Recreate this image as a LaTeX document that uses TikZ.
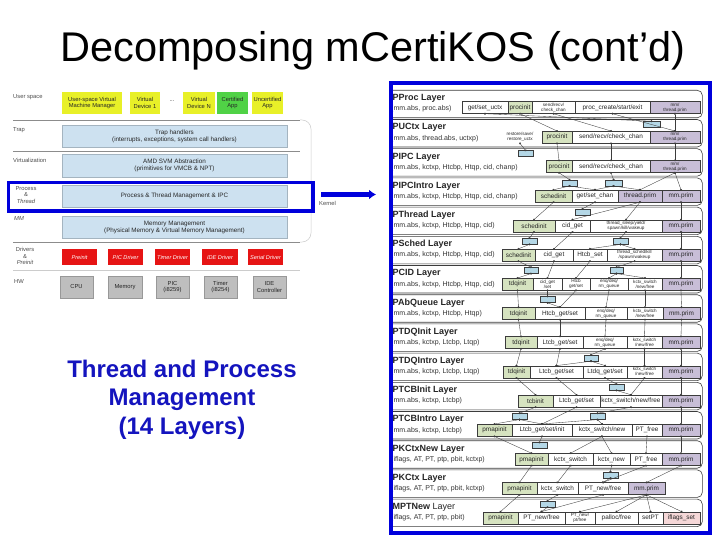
\documentclass[tikz,border=0pt]{standalone}
\usepackage{fontspec}
\setmainfont{Liberation Sans}
\usetikzlibrary{arrows.meta}
\definecolor{bord}{RGB}{0,0,220}
\definecolor{txtblue}{RGB}{20,20,190}
\definecolor{gbox}{RGB}{214,227,192}
\definecolor{pbox}{RGB}{200,190,215}
\definecolor{tagc}{RGB}{180,215,230}
\definecolor{lbox}{RGB}{205,225,240}
\definecolor{ybox}{RGB}{232,240,40}
\definecolor{cbox}{RGB}{80,210,70}
\definecolor{rbox}{RGB}{230,20,20}
\definecolor{hbox}{RGB}{190,190,190}
\definecolor{pinkbox}{RGB}{245,215,215}
\definecolor{lineg}{RGB}{60,60,60}
\tikzset{
 bx/.style={draw=lineg, line width=0.4pt, fill=white, inner sep=0pt, minimum height=12pt, font=\fontsize{6.4}{7}\selectfont, text=black!85},
 two/.style={align=center, font=\fontsize{4.6}{4.9}\selectfont},
 gr/.style={fill=gbox},
 pr/.style={fill=pbox},
 layerbox/.style={draw=lineg, line width=0.6pt, rounded corners=5pt, fill=white, inner sep=0pt},
 laytitle/.style={font=\bfseries\fontsize{9}{9}\selectfont, inner sep=0pt, text=black!85},
 laysub/.style={font=\fontsize{7}{7}\selectfont, inner sep=0pt, text=black!80},
 tagbox/.style={draw=lineg, line width=0.4pt, fill=tagc, minimum height=6pt, inner sep=0pt},
 cn/.style={draw=lineg, line width=0.35pt, {Circle[length=2pt]}-{Circle[length=2pt]}, shorten <=-1pt, shorten >=-1pt},
 lbl/.style={font=\fontsize{5.8}{6.4}\selectfont, text=black!70, inner sep=0pt},
 lbx/.style={draw=lbox!80!black, line width=0.3pt, fill=lbox, inner sep=0pt, font=\fontsize{6.3}{7}\selectfont, align=center, text=black!85},
 ubx/.style={fill=ybox, inner sep=0pt, font=\fontsize{5.8}{6.4}\selectfont, align=center, text=black!85},
 rbx/.style={fill=rbox, inner sep=0pt, font=\itshape\fontsize{5.6}{6}\selectfont, text=white},
 hbx/.style={fill=hbox, draw=hbox!80!black, line width=0.3pt, inner sep=0pt, font=\fontsize{5.8}{6.4}\selectfont, align=center, text=black!85},
 sepl/.style={draw=black!45, line width=0.5pt}
}
\newcommand\mybx[6]{\node[bx,#5,minimum width={(#3-#2)*1pt}] (#1) at ({(#2+#3)/2},#4) {#6};}
\newcommand\mylay[4]{%
 \node[layerbox, anchor=north west, minimum width=330pt, minimum height=27.5pt] (#1) at (372,#2) {};
 \node[laytitle, anchor=west] (#1t) at (392.5,{#2+8.5}) {#3};
 \node[laysub, anchor=west] (#1s) at (391,{#2+19}) {#4};}
\newcommand\mytag[4]{\node[tagbox, minimum width={(#3-#2)*1pt}, anchor=north] (#1) at ({(#2+#3)/2},{#4+2}) {};}
\newcommand\myconn[2]{\draw[cn] (#1.south) -- (#2.north);}
\newcommand\lbox[7]{\node[#7, minimum width={(#3-#2)*1pt}, minimum height={(#5-#4)*1pt}] (#1) at ({(#2+#3)/2},{(#4+#5)/2}) {#6};}
\begin{document}
\begin{tikzpicture}[x=1pt,y=-1pt]
\useasboundingbox (0,0) rectangle (720,540);
\fill[white] (0,0) rectangle (720,540);
% title
\node[font=\fontsize{41.5}{41.5}\selectfont, anchor=base, inner sep=0pt] (title) at (373,62) {Decomposing mCertiKOS (cont’d)};
% blue caption
\node[font=\bfseries\fontsize{24}{24}\selectfont, text=txtblue, anchor=base, inner sep=0pt] (cap1) at (182,377) {Thread and Process};
\node[font=\bfseries\fontsize{24}{24}\selectfont, text=txtblue, anchor=base, inner sep=0pt] (cap2) at (182,405.5) {Management};
\node[font=\bfseries\fontsize{24}{24}\selectfont, text=txtblue, anchor=base, inner sep=0pt] (cap3) at (182,434) {(14 Layers)};
% ---------- left architecture ----------
\node[lbl, anchor=west] (lu) at (13,97) {User space};
\node[lbl, anchor=west] (ltr) at (13,130) {Trap};
\node[lbl, anchor=west] (lvi) at (13,160) {Virtualization};
\node[lbl, align=center] (lpt) at (26,195) {Process\\\&\\\itshape Thread};
\node[lbl, anchor=west, font=\itshape\fontsize{5.8}{6.4}\selectfont] (lmm) at (14,219) {MM};
\node[lbl, align=center] (ldr) at (25,256) {Drivers\\\&\\\itshape Preinit};
\node[lbl, anchor=west] (lhw) at (14,282) {HW};
\draw[sepl] (13,120) -- (300,120);
\draw[sepl] (13,151) -- (300,151);
\draw[sepl] (13,242) -- (300,242);
\draw[sepl, draw=black!20] (13,270) -- (300,270);
\draw[draw=black!20, line width=0.5pt, rounded corners=9pt] (300,120) -- (311,120) -- (311,242) -- (300,242);
\lbox{u1}{62}{122}{92}{114}{User-space Virtual\\Machine Manager}{ubx}
\lbox{u2}{130}{160}{92}{114}{Virtual\\Device 1}{ubx}
\node[lbl, text=black!80] (udots) at (172,101) {...};
\lbox{u3}{183}{215}{92}{114}{Virtual\\Device N}{ubx}
\lbox{u4}{217}{248}{92}{114}{Certified\\App}{ubx, fill=cbox}
\lbox{u5}{252}{283}{92}{114}{Uncertified\\App}{ubx}
\lbox{ktrap}{62}{287}{125}{147}{Trap handlers\\(interrupts, exceptions, system call handlers)}{lbx}
\lbox{kamd}{62}{287}{154}{177}{AMD SVM Abstraction\\(primitives for VMCB \& NPT)}{lbx}
\lbox{kpt}{62}{287}{185}{207}{Process \& Thread Management \& IPC}{lbx}
\lbox{kmm}{62}{287}{216}{238}{Memory Management\\(Physical Memory \& Virtual Memory Management)}{lbx}
\lbox{r1}{62}{97}{249}{265}{Preinit}{rbx}
\lbox{r2}{108}{143}{249}{265}{PIC Driver}{rbx}
\lbox{r3}{155}{190}{249}{265}{Timer Driver}{rbx}
\lbox{r4}{202}{238}{249}{265}{IDE Driver}{rbx}
\lbox{r5}{248}{283}{249}{265}{Serial Driver}{rbx}
\lbox{h1}{60}{93}{276}{298}{CPU}{hbx}
\lbox{h2}{108}{142}{276}{298}{Memory}{hbx}
\lbox{h3}{156}{189}{276}{298}{PIC\\(i8259)}{hbx}
\lbox{h4}{204}{237}{276}{298}{Timer\\(i8254)}{hbx}
\lbox{h5}{253}{286}{276}{298}{IDE\\Controller}{hbx}
\node[draw=bord, line width=3.4pt, minimum width=304.6pt, minimum height=28.6pt, inner sep=0pt, anchor=north west] (hl) at (6.7,180.7) {};
\node[lbl, anchor=west] (kern) at (319,203.5) {Kernel};
\coordinate (as) at (321,194.5);
\coordinate (ae) at (376,194.5);
\draw[bord, line width=5pt, -{Latex[length=7pt,width=10pt]}] (as) -- (ae);
% ---------- right layered panel ----------
\begin{scope}
\clip (390,83.5) rectangle (705.5,528.5);
\mylay{L0}{90}{PProc Layer}{(mm.abs, proc.abs)}
\mylay{L1}{119.2}{PUCtx Layer}{(mm.abs, thread.abs, uctxp)}
\mylay{L2}{148.4}{PIPC Layer}{(mm.abs, kctxp, Htcbp, Htqp, cid, chanp)}
\mylay{L3}{177.6}{PIPCIntro Layer}{(mm.abs, kctxp, Htcbp, Htqp, cid, chanp)}
\mylay{L4}{206.8}{PThread Layer}{(mm.abs, kctxp, Htcbp, Htqp, cid)}
\mylay{L5}{236}{PSched Layer}{(mm.abs, kctxp, Htcbp, Htqp, cid)}
\mylay{L6}{265.2}{PCID Layer}{(mm.abs, kctxp, Htcbp, Htqp, cid)}
\mylay{L7}{294.4}{PAbQueue Layer}{(mm.abs, kctxp, Htcbp, Htqp)}
\mylay{L8}{323.6}{PTDQInit Layer}{(mm.abs, kctxp, Ltcbp, Ltqp)}
\mylay{L9}{352.8}{PTDQIntro Layer}{(mm.abs, kctxp, Ltcbp, Ltqp)}
\mylay{L10}{382}{PTCBInit Layer}{(mm.abs, kctxp, Ltcbp)}
\mylay{L11}{411.2}{PTCBIntro Layer}{(mm.abs, kctxp, Ltcbp)}
\mylay{L12}{440.4}{PKCtxNew Layer}{(iflags, AT, PT, ptp, pbit, kctxp)}
\mylay{L13}{469.6}{PKCtx Layer}{(iflags, AT, PT, ptp, pbit, kctxp)}
\mylay{L14}{498.8}{MPTNew {\mdseries Layer}}{(iflags, AT, PT, ptp, pbit)}
% boxes
\mybx{a1}{462}{508}{107.5}{}{get/set\_uctx}
\mybx{a2}{508}{532}{107.5}{gr}{procinit}
\mybx{a3}{532}{575}{107.5}{two}{send/recv/\\check\_chan}
\mybx{a4}{575}{650}{107.5}{}{proc\_create/start/exit}
\mybx{a5}{650}{700}{107.5}{pr,two}{mm/\\thread.prim}
\mybx{b1}{498}{542}{137.2}{two,draw=none}{restore/save/\\restore\_uctx}
\mybx{b2}{542}{572}{137.2}{gr}{procinit}
\mybx{b3}{572}{650}{137.2}{}{send/recv/check\_chan}
\mybx{b4}{650}{700}{137.2}{pr,two}{mm/\\thread.prim}
\mybx{c1}{546}{572}{166.6}{gr}{procinit}
\mybx{c2}{572}{650}{166.6}{}{send/recv/check\_chan}
\mybx{c3}{650}{700}{166.6}{pr,two}{mm/\\thread.prim}
\mybx{d1}{535}{572}{196}{gr}{schedinit}
\mybx{d2}{572}{618}{196}{}{get/set\_chan}
\mybx{d3}{618}{662}{196}{pr}{thread.prim}
\mybx{d4}{662}{700}{196}{pr}{mm.prim}
\mybx{e1}{513}{555}{225.8}{gr}{schedinit}
\mybx{e2}{555}{590}{225.8}{}{cid\_get}
\mybx{e3}{590}{662}{225.8}{two}{thread\_sleep/yield/\\spawn/kill/wakeup}
\mybx{e4}{662}{700}{225.8}{pr}{mm.prim}
\mybx{f1}{502}{535}{255}{gr}{schedinit}
\mybx{f2}{535}{573}{255}{}{cid\_get}
\mybx{f3}{573}{607}{255}{}{Htcb\_set}
\mybx{f4}{607}{662}{255}{two}{thread\_sched/kill\\/spawn/wakeup}
\mybx{f5}{662}{700}{255}{pr}{mm.prim}
\mybx{g1}{502}{533}{284.2}{gr}{tdqinit}
\mybx{g2}{533}{562}{284.2}{two}{cid\_get\\/set}
\mybx{g3}{562}{590}{284.2}{two}{Htcb\\get/set}
\mybx{g4}{590}{628}{284.2}{two}{enq/deq/\\rm\_queue}
\mybx{g5}{628}{662}{284.2}{two}{kctx\_switch\\/new/free}
\mybx{g6}{662}{700}{284.2}{pr}{mm.prim}
\mybx{h1}{502}{535}{313.4}{gr}{tdqinit}
\mybx{h2}{535}{585}{313.4}{}{Htcb\_get/set}
\mybx{h3}{585}{627}{313.4}{two}{enq/deq/\\rm\_queue}
\mybx{h4}{627}{663}{313.4}{two}{kctx\_switch\\/new/free}
\mybx{h5}{663}{700}{313.4}{pr}{mm.prim}
\mybx{i1}{505}{537}{342.6}{gr}{tdqinit}
\mybx{i2}{537}{583}{342.6}{}{Ltcb\_get/set}
\mybx{i3}{583}{627}{342.6}{two}{enq/deq/\\rm\_queue}
\mybx{i4}{627}{662}{342.6}{two}{kctx\_switch\\/new/free}
\mybx{i5}{662}{700}{342.6}{pr}{mm.prim}
\mybx{j1}{503}{530}{371.8}{gr}{tdqinit}
\mybx{j2}{530}{583}{371.8}{}{Ltcb\_get/set}
\mybx{j3}{583}{627}{371.8}{}{Ltdq\_get/set}
\mybx{j4}{627}{662}{371.8}{two}{kctx\_switch\\/new/free}
\mybx{j5}{662}{700}{371.8}{pr}{mm.prim}
\mybx{k1}{518}{553}{401}{gr}{tcbinit}
\mybx{k2}{553}{600}{401}{}{Ltcb\_get/set}
\mybx{k3}{600}{662}{401}{}{kctx\_switch/new/free}
\mybx{k4}{662}{700}{401}{pr}{mm.prim}
\mybx{l1}{477}{512}{430.2}{gr}{pmapinit}
\mybx{l2}{512}{572}{430.2}{}{Ltcb\_get/set/init}
\mybx{l3}{572}{632}{430.2}{}{kctx\_switch/new}
\mybx{l4}{632}{662}{430.2}{}{PT\_free}
\mybx{l5}{662}{700}{430.2}{pr}{mm.prim}
\mybx{m1}{515}{548}{459.4}{gr}{pmapinit}
\mybx{m2}{548}{593}{459.4}{}{kctx\_switch}
\mybx{m3}{593}{630}{459.4}{}{kctx\_new}
\mybx{m4}{630}{662}{459.4}{}{PT\_free}
\mybx{m5}{662}{700}{459.4}{pr}{mm.prim}
\mybx{n1}{502}{537}{488.6}{gr}{pmapinit}
\mybx{n2}{537}{578}{488.6}{}{kctx\_switch}
\mybx{n3}{578}{628}{488.6}{}{PT\_new/free}
\mybx{n4}{628}{665}{488.6}{pr}{mm.prim}
\mybx{o1}{483}{518}{517.8}{gr}{pmapinit}
\mybx{o2}{518}{565}{517.8}{}{PT\_new/free}
\mybx{o3}{565}{595}{517.8}{two}{PT\_new/\\pt/free}
\mybx{o4}{595}{638}{517.8}{}{palloc/free}
\mybx{o5}{638}{663}{517.8}{}{setPT}
\mybx{o6}{663}{700}{517.8}{fill=pinkbox}{iflags\_set}
% tags
\mytag{t1}{643}{660}{119.2}
\mytag{t2}{518}{533}{148.4}
\mytag{t3a}{562}{577}{177.6}
\mytag{t3b}{605}{622}{177.6}
\mytag{t4}{575}{590}{206.8}
\mytag{t5a}{522}{537}{236}
\mytag{t5b}{613}{628}{236}
\mytag{t6a}{524}{538}{265.2}
\mytag{t6b}{610}{623}{265.2}
\mytag{t7}{540}{555}{294.4}
\mytag{t9}{584}{598}{352.8}
\mytag{t10}{609}{624}{382}
\mytag{t11a}{512}{527}{411.2}
\mytag{t11b}{590}{605}{411.2}
\mytag{t12}{532}{547}{440.4}
\mytag{t13}{603}{618}{469.6}
\mytag{t14}{540}{555}{498.8}
% connectors
\myconn{a1}{t1}\myconn{a2}{b2}\myconn{a3}{b3}\myconn{a4}{b4}\myconn{a5}{b4}
\myconn{b1}{t2}\myconn{b2}{c1}\myconn{b3}{c2}\myconn{b4}{c3}
\myconn{c1}{t3a}\myconn{c2}{t3b}\myconn{t3a}{d1}\myconn{t3a}{d2}\myconn{t3b}{d2}\myconn{t3b}{d3}\myconn{c3}{d3}\myconn{c3}{d4}
\myconn{d1}{e1}\myconn{d2}{t4}\myconn{d3}{e2}\myconn{d3}{e3}\myconn{d4}{e4}
\myconn{e1}{t5a}\myconn{e2}{f2}\myconn{e3}{t5b}\myconn{t5a}{f1}\myconn{t5b}{f4}\myconn{t5b}{f3}\myconn{e4}{f5}
\myconn{f1}{t6a}\myconn{f2}{g2}\myconn{f3}{g3}\myconn{f4}{t6b}\myconn{t6a}{g1}\myconn{t6b}{g4}\myconn{t6b}{g5}\myconn{f5}{g6}
\myconn{g1}{h1}\myconn{g2}{t7}\myconn{t7}{h2}\myconn{g3}{h2}\myconn{g4}{h3}\myconn{g5}{h4}\myconn{g6}{h5}
\myconn{h1}{i1}\myconn{h2}{i2}\myconn{h3}{i3}\myconn{h4}{i4}\myconn{h5}{i5}
\myconn{i1}{j1}\myconn{i2}{j2}\myconn{i3}{t9}\myconn{t9}{j2}\myconn{t9}{j3}\myconn{i4}{j4}\myconn{i5}{j5}
\myconn{j1}{k1}\myconn{j2}{k2}\myconn{j3}{t10}\myconn{t10}{k3}\myconn{j4}{k3}\myconn{j5}{k4}
\myconn{k1}{t11a}\myconn{k2}{l2}\myconn{k3}{t11b}\myconn{t11a}{l1}\myconn{t11a}{l2}\myconn{t11b}{l2}\myconn{t11b}{l3}\myconn{k4}{l5}
\myconn{l1}{m1}\myconn{l2}{t12}\myconn{l3}{m2}\myconn{l3}{m3}\myconn{l4}{m4}\myconn{l5}{m5}
\myconn{m1}{n1}\myconn{m2}{n2}\myconn{m3}{t13}\myconn{t13}{n3}\myconn{m4}{n3}\myconn{m5}{n4}
\myconn{n1}{o1}\myconn{n2}{t14}\myconn{t14}{o2}\myconn{n3}{o2}\myconn{n4}{o3}\myconn{n4}{o4}\myconn{n4}{o5}\myconn{n4}{o6}
\end{scope}
\node[draw=bord, line width=4pt, minimum width=319pt, minimum height=449pt, inner sep=0pt, anchor=north west] (panel) at (388.5,81.5) {};
\end{tikzpicture}
\end{document}
